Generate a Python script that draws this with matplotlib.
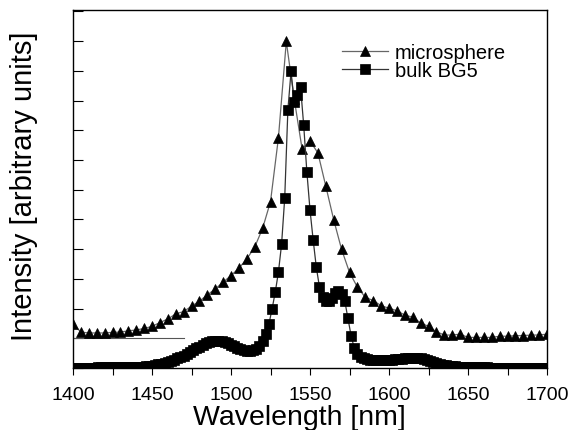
import numpy as np
import matplotlib
matplotlib.use('Agg')
import matplotlib.pyplot as plt
from matplotlib.ticker import MultipleLocator, NullFormatter

plt.rcParams['font.family'] = ['Liberation Sans', 'DejaVu Sans']

# microsphere spectrum, sampled every 5 nm
micro_nm = list(range(1400, 1701, 5))
micro_int = [1.48, 1.21, 1.18, 1.18, 1.18, 1.20, 1.21, 1.25, 1.28, 1.33,
             1.40, 1.53, 1.65, 1.82, 1.90, 2.08, 2.25, 2.46, 2.66, 2.89,
             3.11, 3.36, 3.67, 4.07, 4.70, 5.60, 7.74, 10.99, 9.06, 7.37,
             7.64, 7.24, 6.12, 4.99, 3.99, 3.22, 2.72, 2.38, 2.27, 2.10,
             2.01, 1.93, 1.78, 1.71, 1.52, 1.40, 1.22, 1.11, 1.11, 1.14,
             1.03, 1.03, 1.03, 1.03, 1.07, 1.07, 1.09, 1.09, 1.11, 1.11,
             1.14]

# bulk BG5 glass, sampled every 2 nm
bulk_nm = list(range(1400, 1701, 2))
bulk_int = [0.01, 0.01, 0.01, 0.01, 0.01, 0.01, 0.01, 0.01, 0.02, 0.02,
            0.02, 0.02, 0.02, 0.02, 0.02, 0.02, 0.03, 0.03, 0.03, 0.03,
            0.03, 0.04, 0.05, 0.06, 0.07, 0.08, 0.10, 0.12, 0.14, 0.17,
            0.20, 0.24, 0.28, 0.32, 0.37, 0.42, 0.48, 0.54, 0.60, 0.66,
            0.72, 0.78, 0.83, 0.87, 0.90, 0.92, 0.92, 0.90, 0.87, 0.83,
            0.78, 0.73, 0.68, 0.63, 0.60, 0.58, 0.58, 0.60, 0.65, 0.75,
            0.92, 1.14, 1.48, 1.99, 2.55, 3.22, 4.16, 5.72, 8.69, 9.98,
            8.95, 9.19, 9.47, 8.18, 6.61, 5.32, 4.31, 3.39, 2.72, 2.39,
            2.26, 2.26, 2.36, 2.53, 2.59, 2.49, 2.26, 1.67, 1.09, 0.67,
            0.47, 0.38, 0.32, 0.29, 0.27, 0.26, 0.26, 0.26, 0.26, 0.27,
            0.27, 0.28, 0.29, 0.30, 0.31, 0.32, 0.32, 0.33, 0.33, 0.33,
            0.32, 0.30, 0.27, 0.23, 0.19, 0.16, 0.13, 0.11, 0.09, 0.08,
            0.07, 0.06, 0.05, 0.04, 0.03, 0.02, 0.02, 0.02, 0.02, 0.02,
            0.02, 0.02, 0.01, 0.01, 0.01, 0.01, 0.01, 0.01, 0.01, 0.01,
            0.01, 0.01, 0.01, 0.01, 0.01, 0.01, 0.01, 0.01, 0.01, 0.01,
            0.01]

# stray baseline segment present in the original figure
base_nm = [1400, 1470]
base_int = [1.01, 1.01]

fig = plt.figure(figsize=(5.69, 4.31), dpi=100)
ax = fig.add_axes([73/569, 62/431, 474/569, 358/431])

ax.plot(base_nm, base_int, color='#555555', lw=0.8)
ax.plot(micro_nm, micro_int, color='#666666', lw=0.9, marker='^', ms=7.5,
        mfc='black', mec='black', mew=0.5, label='microsphere')
ax.plot(bulk_nm, bulk_int, color='#333333', lw=0.9, marker='s', ms=6.8,
        mfc='black', mec='black', mew=0.5, label='bulk BG5')

ax.set_xlim(1400, 1700)
ax.set_ylim(0, 12.05)
ax.xaxis.set_major_locator(MultipleLocator(50))
ax.xaxis.set_minor_locator(MultipleLocator(25))
ax.yaxis.set_major_locator(MultipleLocator(1))
ax.yaxis.set_major_formatter(NullFormatter())
ax.tick_params(axis='x', which='both', direction='out', length=5, width=0.8,
               labelsize=14, pad=8.3)
ax.tick_params(axis='y', which='both', direction='in', length=7, width=0.8)
for s in ax.spines.values():
    s.set_linewidth(1.0)

ax.set_xlabel('Wavelength [nm]', fontsize=20.5)
ax.xaxis.set_label_coords(0.478, -0.100)
ax.set_ylabel('Intensity [arbitrary units]', fontsize=21)
ax.yaxis.set_label_coords(-0.074, 0.511)

ax.legend(loc='upper left', bbox_to_anchor=(0.568, 0.907), frameon=False,
          fontsize=14.5, handlelength=2.25, handletextpad=0.35,
          labelspacing=-0.05, borderpad=0, borderaxespad=0)

fig.savefig('out.png', dpi=100)
